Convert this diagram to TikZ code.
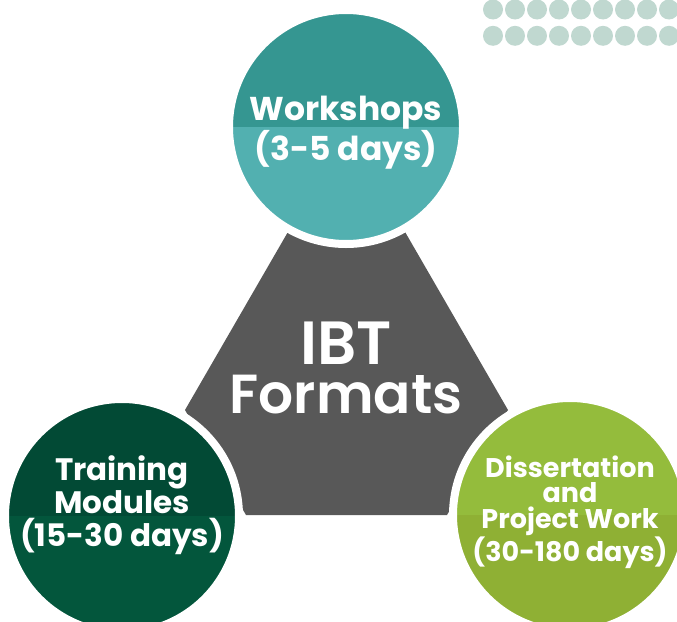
\documentclass[tikz,border=0pt]{standalone}
\usepackage{fontspec}
\setmainfont{Poppins}
\newfontfamily\ibtfont{Poppins SemiBold}
\usepackage{tikz}
\usetikzlibrary{positioning}
\definecolor{clrWsT}{RGB}{53,150,145}
\definecolor{clrWsB}{RGB}{82,176,176}
\definecolor{clrTmT}{RGB}{2,74,53}
\definecolor{clrTmB}{RGB}{3,86,60}
\definecolor{clrDpT}{RGB}{148,188,60}
\definecolor{clrDpB}{RGB}{143,176,52}
\definecolor{clrHex}{RGB}{88,88,88}
\definecolor{clrDot}{RGB}{192,216,208}
\tikzset{
  format/.style={circle,draw=white,line width=8pt,minimum size=234pt,
    inner sep=0pt},
  lowerhalf/.style={path picture={\fill[#1] (path picture bounding box.west)
    rectangle (path picture bounding box.south east);}},
  fmttext/.style={align=center,text=white,inner sep=0pt},
  dotfill/.style={fill=clrDot}
}

\begin{document}
\begin{tikzpicture}[x=1pt,y=-1pt]
  \clip (0,0) rectangle (677,621);
  \fill[white] (0,0) rectangle (677,621);

  % dot grid, top right
  \foreach \col in {0,...,8}
    \foreach \row in {0,1}
      \fill[dotfill] (493+22*\col,9.5+26.3*\row) circle (10pt);

  % centre hexagon
  \fill[clrHex] (185,410) -- (246,515) -- (447,515) -- (508,410)
    -- (375,180) -- (318,180) -- cycle;
  \node[text=white,align=center] (ibt) at (346,368)
    {\ibtfont\fontsize{61}{61}\selectfont IBT\\[9pt]
     \ibtfont\fontsize{55}{55}\selectfont Formats};

  % the three formats
  \node[format,fill=clrWsT,lowerhalf=clrWsB] (workshops) at (346,127) {};
  \node[format,fill=clrTmT,lowerhalf=clrTmB] (training) at (122,516) {};
  \node[format,fill=clrDpT,lowerhalf=clrDpB] (dissertation) at (570,515) {};

  \node[fmttext,font=\bfseries\fontsize{33}{37}\selectfont]
    (workshops text) at ([yshift=-6pt]workshops.center)
    {Workshops\\(3-5 days)};
  \node[fmttext,font=\bfseries\fontsize{31}{33}\selectfont]
    (training text) at ([yshift=11pt]training.center)
    {Training\\Modules\\(15-30 days)};
  \node[fmttext,font=\bfseries\fontsize{27}{25.5}\selectfont]
    (dissertation text) at ([yshift=3pt]dissertation.center)
    {Dissertation\\and\\Project Work\\(30-180 days)};
\end{tikzpicture}
\end{document}
